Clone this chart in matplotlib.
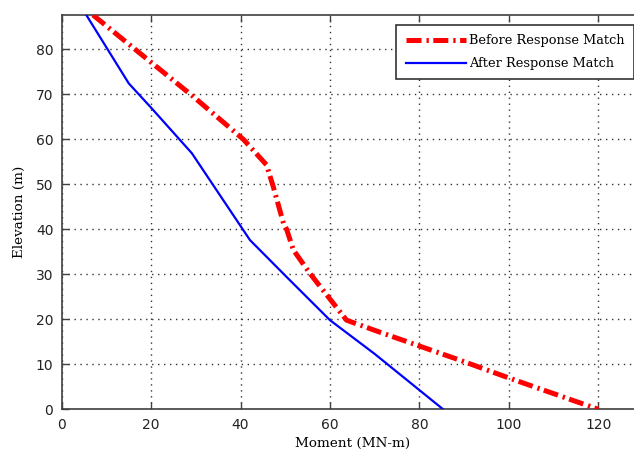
import matplotlib
matplotlib.use("Agg")
import matplotlib.pyplot as plt

# Data
before_moment = [7.0, 17.5, 29.4, 40.6, 45.8, 47.3, 49.6, 50.3, 51.8, 55.5, 60.7, 63.7, 70.4, 81.6, 89.1, 99.9, 111.4, 120.0]
before_elev   = [87.6, 79.1, 69.5, 60.0, 54.3, 49.5, 41.3, 40.0, 35.4, 30.2, 23.6, 19.8, 17.4, 13.5, 10.9, 7.0, 3.0, 0.0]

after_moment = [5.5, 15.0, 20.0, 29.1, 42.1, 50.3, 60.0, 70.0, 85.3]
after_elev   = [87.6, 72.4, 67.0, 56.9, 37.6, 29.4, 19.8, 12.3, 0.0]

xticks = [0, 20, 40, 60, 80, 100, 120]
yticks = [0, 10, 20, 30, 40, 50, 60, 70, 80]

W, H = 634, 453
fig = plt.figure(figsize=(W / 100, H / 100), dpi=100)
left, right, top, bottom = 61.7, 643, 15, 409.3
ax = fig.add_axes([left / W, 1 - bottom / H, (right - left) / W, (bottom - top) / H])

ax.plot(before_moment, before_elev, color="red", lw=3.6,
        linestyle=(0, (3.0, 1.0, 0.46, 0.9)), solid_capstyle="butt",
        dash_capstyle="butt", label="Before Response Match", zorder=3)
ax.plot(after_moment, after_elev, color="blue", lw=1.6,
        label="After Response Match", zorder=3)

ax.set_xlim(0, 130)
ax.set_ylim(0, 87.6)
ax.set_xticks(xticks)
ax.set_yticks(yticks)

ax.grid(True, color="#333333", linestyle=(0, (1, 3.3)), lw=1.0)
for s in ax.spines.values():
    s.set_color("#404040")
    s.set_linewidth(1.2)
ax.tick_params(direction="in", length=5, width=1, color="#404040",
               top=True, right=True, labelsize=10, pad=6)
for lab in ax.get_xticklabels() + ax.get_yticklabels():
    lab.set_family("DejaVu Sans")
    lab.set_color("#222222")

ax.set_xlabel("Moment (MN-m)", family="DejaVu Serif", fontsize=9.7, labelpad=4)
ax.set_ylabel("Elevation (m)", family="DejaVu Serif", fontsize=9.7, labelpad=7)

leg = ax.legend(loc="upper right", bbox_to_anchor=(634 / W, 1 - 25 / H),
                bbox_transform=fig.transFigure, borderaxespad=0,
                prop={"family": "DejaVu Serif", "size": 9.3},
                handlelength=4.7, handletextpad=0.25, labelspacing=0.78,
                borderpad=0.7, fancybox=False, framealpha=1)
leg.get_frame().set_edgecolor("#333333")
leg.get_frame().set_linewidth(1.2)

fig.savefig("out.png", dpi=100)
